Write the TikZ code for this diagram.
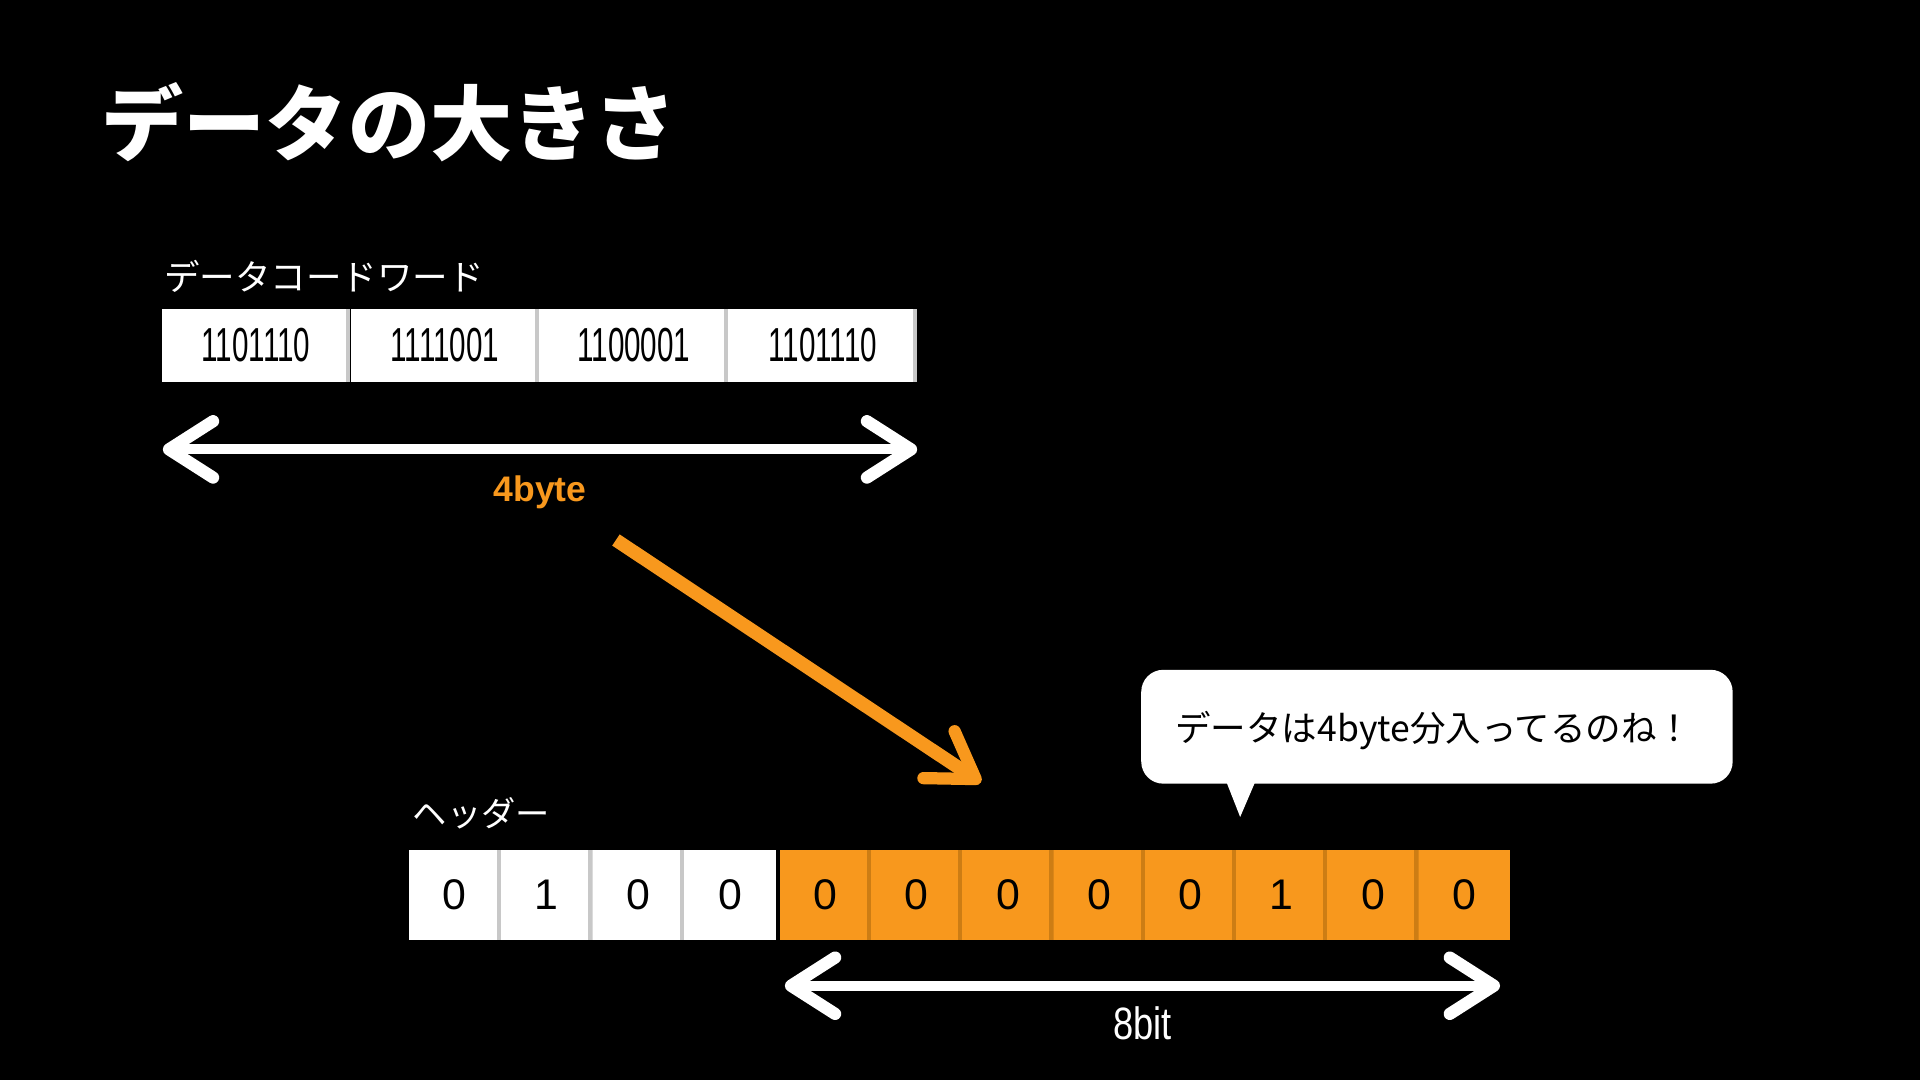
\documentclass[tikz,border=0pt]{standalone}
\usepackage{fontspec}
\usepackage{graphicx}
\setmainfont{Noto Sans CJK JP}
\newfontfamily\latinfont{Liberation Sans}
\usetikzlibrary{arrows.meta}
\definecolor{qorange}{RGB}{248,152,29}
\definecolor{qsep}{RGB}{200,200,200}
\definecolor{qosep}{RGB}{205,125,20}
\newcommand\narrowtxt[2]{\scalebox{#1}[1]{#2}}
\begin{document}
\begin{tikzpicture}[x=1pt,y=-1pt,
  sepstrip/.style={path picture={\fill[#1] ([xshift=-3.5pt]path picture bounding box.north east) rectangle (path picture bounding box.south east);}},
  topcell/.style={rectangle, fill=white, minimum width=154.25pt, minimum height=60pt, inner sep=0pt, text=black, font=\latinfont\fontsize{39}{39}\selectfont, sepstrip=qsep},
  bitcell/.style={rectangle, minimum height=74pt, inner sep=0pt, text=black, font=\latinfont\fontsize{35}{35}\selectfont},
  wcell/.style={bitcell, fill=white, minimum width=75pt},
  ocell/.style={bitcell, fill=qorange, minimum width=74.5pt},
  lbl/.style={anchor=west, inner sep=0pt, text=white, font=\fontsize{28}{28}\selectfont},
  barb/.tip={Straight Barb[length=36pt, width=46pt, line width=10pt, round]},
  dimarrow/.style={draw=white, line width=8pt, barb-barb}
]
\fill[black] (0,0) rectangle (1568,882);
\useasboundingbox (0,0) rectangle (1568,882);

% title
\node[anchor=west, inner sep=0pt, text=white, font=\fontsize{67}{67}\selectfont\bfseries] (title) at (83,100) {データの大きさ};

% data codewords
\node[lbl, font=\fontsize{29}{29}\selectfont] (lblword) at (134,226) {データコードワード};
\node[topcell] (w1) at (209.1,282) {\narrowtxt{0.62}{1101110}};
\node[topcell] (w2) at (363.4,282) {\narrowtxt{0.62}{1111001}};
\node[topcell] (w3) at (517.6,282) {\narrowtxt{0.62}{1100001}};
\node[topcell] (w4) at (671.9,282) {\narrowtxt{0.62}{1101110}};

\coordinate (ta1) at (133,367);
\coordinate (ta2) at (749,367);
\draw[dimarrow] (ta1) -- (ta2);
\node[text=qorange, inner sep=0pt, font=\latinfont\fontsize{29}{29}\selectfont\bfseries] (fourbyte) at (441,402) {4byte};

% orange arrow
\coordinate (oa1) at (503,441);
\coordinate (oa2) at (801,639);
\draw[draw=qorange, line width=11pt, -barb] (oa1) -- (oa2);

% bubble
\node[fill=white, rounded corners=18pt, minimum width=483pt, minimum height=93pt, inner sep=0pt] (bubble) at (1173.5,593.5) {};
\fill[white] ([xshift=70pt,yshift=1pt]bubble.south west) -- ([xshift=81pt,yshift=-27pt]bubble.south west) -- ([xshift=93pt,yshift=1pt]bubble.south west) -- cycle;
\node[inner sep=0pt, text=black, font=\fontsize{29}{29}\selectfont] (bubbletext) at (1171,597) {データは4byte分入ってるのね！};

% header
\node[lbl] (lblhead) at (337,664) {ヘッダー};
\node[wcell, sepstrip=qsep] (h1) at (371.5,731) {0};
\node[wcell, sepstrip=qsep] (h2) at (446.5,731) {1};
\node[wcell, sepstrip=qsep] (h3) at (521.5,731) {0};
\node[wcell] (h4) at (596.5,731) {0};

\node[ocell, sepstrip=qosep] (b1) at (674.25,731) {0};
\node[ocell, sepstrip=qosep] (b2) at (748.75,731) {0};
\node[ocell, sepstrip=qosep] (b3) at (823.25,731) {0};
\node[ocell, sepstrip=qosep] (b4) at (897.75,731) {0};
\node[ocell, sepstrip=qosep] (b5) at (972.25,731) {0};
\node[ocell, sepstrip=qosep] (b6) at (1046.75,731) {1};
\node[ocell, sepstrip=qosep] (b7) at (1121.25,731) {0};
\node[ocell] (b8) at (1195.75,731) {0};

\coordinate (ba1) at (641,805);
\coordinate (ba2) at (1225,805);
\draw[dimarrow] (ba1) -- (ba2);
\node[text=white, inner sep=0pt, font=\latinfont\fontsize{37}{37}\selectfont] (eightbit) at (933,836) {\narrowtxt{0.8}{8bit}};
\end{tikzpicture}
\end{document}
